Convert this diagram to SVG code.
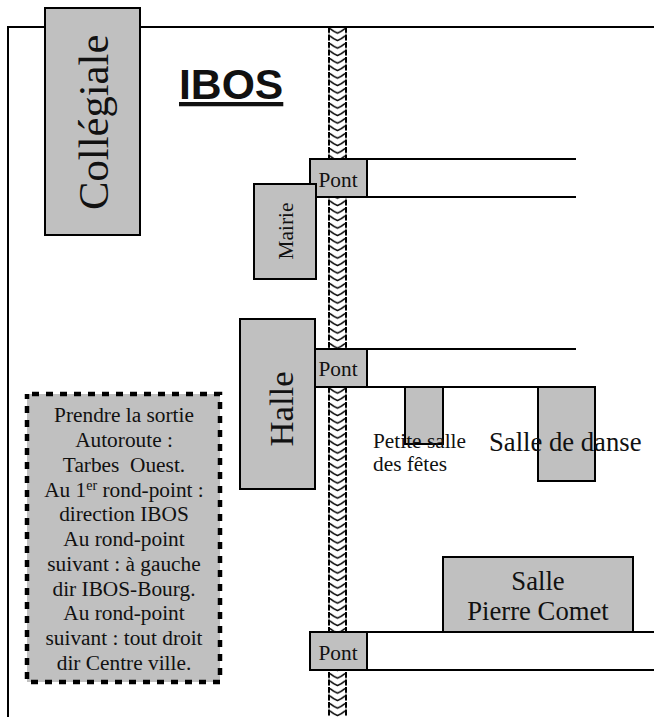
<svg xmlns="http://www.w3.org/2000/svg" width="654" height="717" viewBox="0 0 654 717">
<style>
text{font-family:"Liberation Serif","Times New Roman",serif;fill:#111}
.g{fill:#c0c0c0;stroke:#000;stroke-width:2}
.l{fill:none;stroke:#000;stroke-width:2}
.m{text-anchor:middle}
.s{font-size:21.33px}
.b{font-size:26.67px}
</style>
<defs>
<pattern id="rope" width="19" height="7.5" patternUnits="userSpaceOnUse" x="328" y="27">
<rect width="19" height="7.5" fill="#fff"/>
<path d="M2 1.5Q5.5 4.5 9.5 6Q13.5 4.5 17 1.5" fill="none" stroke="#000" stroke-width="1.5"/>
<path d="M1 0V7.5M18 0V7.5" stroke="#000" stroke-width="2" stroke-dasharray="6 1.5"/>
</pattern>
</defs>
<rect width="654" height="717" fill="#fff"/>
<g id="connectors">
<path class="l" d="M8 717V27H654"/>
<rect id="river" x="328" y="28" width="19" height="689" fill="url(#rope)"/>
<path class="l" d="M367 159H576M367 197H576M367 349H576M367 387H595M367 632H654M367 670H654"/>
</g>
<g id="collegiale"><rect class="g" x="45" y="8" width="95" height="227"/><text transform="translate(108,210) rotate(-90)" font-size="42.67">Collégiale</text></g>
<text id="title" x="179" y="99" style="font-family:'Liberation Sans',Arial,sans-serif;font-weight:bold;text-decoration:underline" font-size="42.67">IBOS</text>
<g id="pont1"><rect class="g" x="310" y="159" width="57" height="38"/><text class="m s" x="338" y="187">Pont</text></g>
<g id="mairie"><rect class="g" x="254" y="184" width="62" height="95"/><text class="m s" transform="translate(293,231) rotate(-90)">Mairie</text></g>
<g id="halle"><rect class="g" x="240" y="319" width="75" height="170"/><text class="m" transform="translate(293,409) rotate(-90)" font-size="34.67">Halle</text></g>
<g id="pont2"><rect x="316" y="349" width="51" height="38" fill="#c0c0c0"/><path class="l" d="M367 349V387M316 387H367M316 349H367"/><text class="m s" x="338" y="376">Pont</text></g>
<g id="petite-salle"><rect class="g" x="405" y="387" width="38" height="57"/><text class="s" x="373" y="448">Petite salle</text><text class="s" x="373" y="471">des fêtes</text></g>
<g id="salle-danse"><rect class="g" x="538" y="387" width="57" height="94"/><text class="b" x="489" y="451">Salle de danse</text></g>
<g id="salle-comet"><rect class="g" x="443" y="557" width="190" height="75"/><text class="m b" x="538" y="590">Salle</text><text class="m b" x="538" y="620">Pierre Comet</text></g>
<g id="pont3"><rect class="g" x="310" y="632" width="57" height="38"/><text class="m s" x="338" y="660">Pont</text></g>
<g id="directions">
<rect x="27" y="394" width="193" height="288" fill="#c0c0c0" stroke="#000" stroke-width="4.5" stroke-dasharray="7 7" stroke-dashoffset="-5"/>
<g class="s" text-anchor="middle">
<text x="124" y="422">Prendre la sortie</text>
<text x="124" y="447">Autoroute :</text>
<text x="124" y="472" xml:space="preserve">Tarbes  Ouest.</text>
<text x="124" y="497">Au 1<tspan font-size="14" dy="-7">er</tspan><tspan dy="7"> rond-point :</tspan></text>
<text x="124" y="521">direction IBOS</text>
<text x="124" y="546">Au rond-point</text>
<text x="124" y="571">suivant : à gauche</text>
<text x="124" y="596">dir IBOS-Bourg.</text>
<text x="124" y="620">Au rond-point</text>
<text x="124" y="645">suivant : tout droit</text>
<text x="124" y="670">dir Centre ville.</text>
</g>
</g>
</svg>
